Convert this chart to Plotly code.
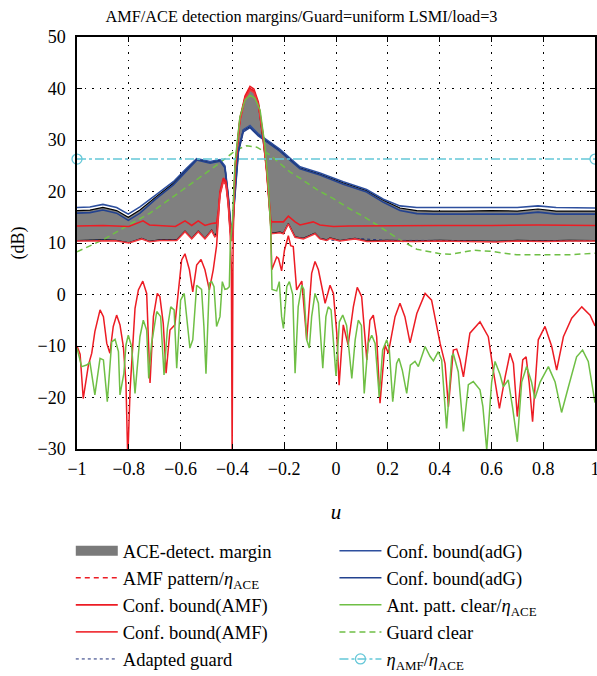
import plotly.graph_objects as go

# ---------------- data (u, dB) ----------------
margin_upper = [(-1.0, 16.3), (-0.95, 16.4), (-0.90, 16.9), (-0.847, 16.3), (-0.802, 15.0), (-0.757, 16.4),
                (-0.694, 19.0), (-0.628, 21.6), (-0.577, 24.3), (-0.538, 26.3), (-0.486, 25.7), (-0.448, 26.1),
                (-0.429, 24.8), (-0.416, 19.0), (-0.403, 11.2), (-0.397, 14.5), (-0.390, 24.2), (-0.371, 33.9),
                (-0.351, 38.3), (-0.332, 40.0), (-0.317, 39.5), (-0.300, 37.1), (-0.283, 30.5), (-0.268, 29.8),
                (-0.252, 29.4), (-0.216, 27.8), (-0.178, 26.3), (-0.139, 24.6),
                (-0.062, 23.4), (0.028, 21.7), (0.118, 20.2), (0.183, 18.3), (0.247, 16.8), (0.312, 16.3),
                (0.376, 16.2), (0.5, 16.2), (0.6, 16.3), (0.70, 16.2), (0.78, 16.6), (0.85, 16.2), (1.0, 16.2)]

margin_lower = [(-1.0, 10.45), (-0.9, 10.6), (-0.85, 10.5), (-0.80, 10.05), (-0.75, 10.9), (-0.72, 10.3),
                (-0.68, 10.6), (-0.615, 10.6), (-0.583, 12.3), (-0.557, 10.9), (-0.532, 12.3), (-0.506, 10.9),
                (-0.480, 12.5), (-0.468, 11.3), (-0.461, 12.0), (-0.454, 15.8), (-0.448, 19.6), (-0.435, 22.2),
                (-0.425, 21.6), (-0.416, 17.7), (-0.409, 12.5), (-0.403, 10.6), (-0.397, 14.0), (-0.390, 20.3),
                (-0.377, 27.8), (-0.358, 31.9), (-0.332, 32.6), (-0.300, 31.0), (-0.283, 30.5), (-0.268, 24.2),
                (-0.258, 17.7), (-0.252, 13.2), (-0.249, 11.9), (-0.216, 12.1), (-0.203, 11.9), (-0.184, 13.8),
                (-0.158, 11.2), (-0.126, 10.9), (-0.081, 11.9), (-0.062, 10.9), (-0.036, 10.6), (-0.023, 11.0),
                (0.015, 10.45), (0.073, 10.9), (0.12, 10.4), (0.2, 10.5), (0.3, 10.4), (0.4, 10.5), (0.5, 10.4),
                (0.62, 10.3), (0.7, 10.5), (0.8, 10.4), (0.9, 10.5), (1.0, 10.45)]

amf_pattern = [(-1.000, -10.0), (-0.988, -11.6), (-0.976, -20.2), (-0.956, -13.7), (-0.943, -11.4), (-0.931, -7.2),
               (-0.911, -3.0), (-0.898, -4.3), (-0.885, -9.5), (-0.873, -11.4), (-0.860, -6.2), (-0.847, -4.0),
               (-0.834, -5.9), (-0.821, -10.1), (-0.811, -17.2), (-0.804, -32.0), (-0.795, -18.5), (-0.776, -2.7),
               (-0.763, 0.9), (-0.746, 2.6), (-0.731, 0.2), (-0.718, -17.2), (-0.705, -4.3), (-0.690, 0.2),
               (-0.680, -0.4), (-0.667, -5.6), (-0.656, -15.3), (-0.641, -6.9), (-0.622, -5.9), (-0.609, 0.2),
               (-0.596, 6.7), (-0.583, 7.9), (-0.566, 4.8), (-0.553, 0.5), (-0.538, 5.7), (-0.521, 6.8),
               (-0.506, 4.8), (-0.489, 0.9), (-0.474, 4.8), (-0.461, 9.5), (-0.454, 15.8), (-0.448, 19.6),
               (-0.435, 22.2), (-0.425, 21.6), (-0.416, 17.7), (-0.409, 12.5), (-0.404, 5.0), (-0.401, -32.0),
               (-0.398, 5.0), (-0.396, 14.5), (-0.390, 24.2), (-0.371, 33.9), (-0.351, 38.3), (-0.332, 40.0),
               (-0.317, 39.5), (-0.300, 37.1), (-0.281, 30.6), (-0.268, 24.2), (-0.258, 17.7), (-0.252, 13.2),
               (-0.248, 4.8), (-0.238, 6.0), (-0.229, 7.3), (-0.222, 7.0), (-0.210, 4.6), (-0.199, 8.6),
               (-0.190, 10.6), (-0.184, 11.4), (-0.175, 9.5), (-0.165, 9.3), (-0.152, 0.9), (-0.132, 2.6),
               (-0.113, -8.8), (-0.094, 4.1), (-0.081, 6.4), (-0.068, 4.8), (-0.042, -1.7), (-0.023, 1.8),
               (-0.010, 0.2), (0.003, -7.5), (0.012, -17.6), (0.028, -5.9), (0.047, -9.8), (0.067, -2.4),
               (0.082, 1.4), (0.099, -0.4), (0.119, -12.7), (0.131, -5.0), (0.144, -4.0), (0.157, -8.2),
               (0.170, -21.1), (0.189, -9.8), (0.202, -11.4), (0.228, -4.3), (0.247, -1.7), (0.266, -4.3),
               (0.286, -9.4), (0.312, -3.7), (0.344, 0.2), (0.369, -1.1), (0.402, -9.5), (0.421, -13.4),
               (0.434, -21.8), (0.453, -10.8), (0.466, -10.6), (0.479, -12.7), (0.492, -16.0), (0.517, -7.5),
               (0.556, -5.3), (0.588, -8.2), (0.607, -14.7), (0.631, -22.1), (0.653, -16.0), (0.672, -11.4),
               (0.685, -13.4), (0.700, -23.7), (0.721, -12.7), (0.734, -12.1), (0.746, -17.2), (0.759, -24.7),
               (0.781, -8.8), (0.807, -6.2), (0.833, -10.1), (0.852, -14.7), (0.878, -8.2), (0.910, -4.6),
               (0.949, -2.4), (0.981, -4.0), (1.000, -6.1)]

conf_amf_upper = [(-1.0, 13.3), (-0.90, 13.4), (-0.80, 13.2), (-0.745, 14.3), (-0.72, 13.5), (-0.62, 13.2),
                  (-0.583, 14.3), (-0.557, 13.4), (-0.532, 14.3), (-0.506, 13.4), (-0.48, 13.8), (-0.461, 13.9),
                  (-0.454, 16.3), (-0.448, 20.0), (-0.435, 22.6), (-0.425, 22.0), (-0.416, 18.1), (-0.409, 13.4),
                  (-0.403, 13.3), (-0.398, 13.3), (-0.396, 14.9), (-0.390, 24.6), (-0.371, 34.2), (-0.351, 38.6),
                  (-0.332, 40.4), (-0.317, 39.9), (-0.300, 37.4), (-0.281, 30.9), (-0.268, 24.5), (-0.258, 18.0),
                  (-0.252, 14.5), (-0.248, 14.1), (-0.203, 14.1), (-0.184, 15.2), (-0.158, 14.1), (-0.139, 13.5),
                  (-0.088, 14.1), (-0.062, 13.5), (-0.01, 13.2), (0.05, 13.3), (0.2, 13.4), (0.4, 13.4),
                  (0.6, 13.4), (0.78, 13.5), (1.0, 13.4)]

conf_amf_lower = [(-1.0, 10.4), (-0.9, 10.5), (-0.85, 10.45), (-0.80, 10.0), (-0.75, 10.8), (-0.72, 10.25),
                  (-0.68, 10.5), (-0.615, 10.5), (-0.583, 12.2), (-0.557, 10.8), (-0.532, 12.2), (-0.506, 10.8),
                  (-0.480, 12.4), (-0.468, 11.2), (-0.461, 11.5), (-0.454, 15.5), (-0.448, 19.3), (-0.435, 21.9),
                  (-0.425, 21.3), (-0.416, 17.4), (-0.409, 12.2), (-0.403, 10.5), (-0.398, 10.5), (-0.396, 14.2),
                  (-0.390, 23.9), (-0.371, 33.6), (-0.351, 38.0), (-0.332, 39.7), (-0.317, 39.2), (-0.300, 36.8),
                  (-0.281, 30.3), (-0.268, 23.9), (-0.258, 17.4), (-0.252, 12.9), (-0.249, 11.8), (-0.216, 12.0),
                  (-0.203, 11.8), (-0.184, 13.7), (-0.158, 11.1), (-0.126, 10.8), (-0.081, 11.8), (-0.062, 10.8),
                  (-0.036, 10.5), (-0.023, 10.9), (0.015, 10.4), (0.073, 10.8), (0.12, 10.3), (0.2, 10.4),
                  (0.3, 10.3), (0.4, 10.4), (0.5, 10.3), (0.62, 10.2), (0.7, 10.4), (0.8, 10.3), (0.9, 10.4),
                  (1.0, 10.4)]

adapted_guard = [(-1.0, 10.45), (-0.9, 10.6), (-0.85, 10.5), (-0.80, 10.05), (-0.75, 10.9), (-0.72, 10.3),
                 (-0.68, 10.6), (-0.615, 10.6), (-0.583, 12.3), (-0.557, 10.9), (-0.532, 12.3), (-0.506, 10.9),
                 (-0.480, 12.5), (-0.468, 11.3), (-0.461, None), (-0.249, 11.9), (-0.216, 12.1), (-0.203, 11.9),
                 (-0.184, 13.8), (-0.158, 11.2), (-0.126, 10.9), (-0.081, 11.9), (-0.062, 10.9), (-0.036, 10.6),
                 (0.015, 10.45), (0.073, 10.9), (0.2, 10.5), (0.4, 10.5), (0.62, 10.3), (0.8, 10.4), (1.0, 10.45)]

conf_adg_1 = [(-1.0, 16.9), (-0.95, 17.0), (-0.90, 17.5), (-0.847, 16.9), (-0.802, 15.6), (-0.757, 17.0),
              (-0.694, 19.4), (-0.628, 21.9), (-0.577, 24.5), (-0.538, 26.4), (-0.486, 25.8), (-0.448, 26.2),
              (-0.429, 25.0), (-0.416, 19.2), (-0.403, 11.4), (-0.390, 20.5), (-0.377, 28.0), (-0.358, 32.0),
              (-0.332, 32.8), (-0.300, 31.2), (-0.268, 30.1), (-0.216, 28.2), (-0.178, 26.5), (-0.139, 24.8),
              (-0.062, 23.6), (0.028, 21.9), (0.118, 20.4), (0.183, 18.5), (0.247, 17.2), (0.312, 16.9),
              (0.376, 16.9), (0.5, 16.9), (0.6, 16.9), (0.70, 16.9), (0.78, 17.2), (0.85, 16.9), (1.0, 16.8)]

conf_adg_2 = [(-1.0, 15.8), (-0.95, 15.9), (-0.90, 16.4), (-0.847, 15.8), (-0.802, 14.4), (-0.757, 15.8),
              (-0.694, 18.6), (-0.628, 21.3), (-0.577, 24.0), (-0.538, 26.1), (-0.486, 25.5), (-0.448, 25.9),
              (-0.429, 24.6), (-0.416, 18.8), (-0.403, 11.0), (-0.390, 20.1), (-0.377, 27.6), (-0.358, 31.6),
              (-0.332, 32.4), (-0.300, 30.8), (-0.268, 29.7), (-0.216, 27.8), (-0.178, 26.1), (-0.139, 24.4),
              (-0.062, 23.2), (0.028, 21.4), (0.118, 19.9), (0.183, 17.9), (0.247, 16.3), (0.312, 15.7),
              (0.376, 15.6), (0.5, 15.6), (0.6, 15.7), (0.70, 15.6), (0.78, 16.0), (0.85, 15.6), (1.0, 15.6)]

ant_pattern = [(-1.0, -10.45), (-0.982, -14.0), (-0.963, -13.7), (-0.950, -13.2), (-0.931, -19.5), (-0.911, -12.4),
               (-0.898, -12.7), (-0.883, -20.8), (-0.866, -9.2), (-0.853, -8.7), (-0.840, -11.1), (-0.834, -19.5),
               (-0.819, -15.3), (-0.811, -9.8), (-0.802, -7.9), (-0.789, -10.1), (-0.776, -19.2), (-0.757, -8.2),
               (-0.744, -5.0), (-0.731, -6.9), (-0.723, -16.3), (-0.712, -9.5), (-0.692, -3.3), (-0.677, -4.3),
               (-0.664, -15.6), (-0.651, -6.6), (-0.638, -2.4), (-0.625, -3.0), (-0.615, -14.3), (-0.600, -1.1),
               (-0.586, 0.2), (-0.573, -5.6), (-0.564, -10.4), (-0.553, -8.8), (-0.538, 1.8), (-0.519, 1.0),
               (-0.510, -6.2), (-0.502, -15.4), (-0.489, 2.2), (-0.480, 2.5), (-0.471, 1.5), (-0.461, -6.2),
               (-0.448, -4.3), (-0.439, 2.5), (-0.429, 1.0), (-0.420, 1.1), (-0.412, 1.5), (-0.408, 10.0),
               (-0.400, 14.0), (-0.390, 25.5), (-0.371, 34.5), (-0.351, 37.8), (-0.332, 38.7), (-0.313, 38.1),
               (-0.293, 35.8), (-0.274, 28.7), (-0.261, 20.9), (-0.252, 12.5), (-0.247, 1.0), (-0.229, 0.7),
               (-0.219, 2.5), (-0.210, -4.3), (-0.203, -6.6), (-0.190, 1.5), (-0.180, 2.5), (-0.167, 0.0),
               (-0.158, -15.3), (-0.146, -2.4), (-0.132, 1.8), (-0.124, 1.0), (-0.113, -8.8), (-0.103, -10.4),
               (-0.094, -4.3), (-0.081, 0.2), (-0.068, -1.7), (-0.051, -14.3), (-0.039, -4.3), (-0.030, -2.4),
               (-0.019, -3.0), (0.000, -15.8), (0.013, -5.3), (0.026, -4.0), (0.041, -6.0), (0.061, -16.3),
               (0.074, -8.8), (0.086, -5.0), (0.098, -6.0), (0.109, -19.2), (0.124, -9.5), (0.138, -7.9),
               (0.151, -9.5), (0.167, -19.9), (0.180, -10.8), (0.196, -8.8), (0.206, -10.8), (0.219, -20.8),
               (0.234, -13.4), (0.243, -12.4), (0.256, -14.7), (0.273, -19.2), (0.287, -13.7), (0.305, -13.0),
               (0.318, -14.0), (0.344, -10.1), (0.363, -12.0), (0.376, -12.9), (0.395, -11.1), (0.408, -12.7),
               (0.427, -26.0), (0.447, -12.0), (0.453, -11.5), (0.472, -15.0), (0.492, -26.6), (0.511, -17.5),
               (0.530, -16.9), (0.556, -18.5), (0.567, -21.7), (0.582, -30.2), (0.601, -17.0), (0.614, -13.0),
               (0.633, -15.5), (0.646, -17.9), (0.665, -16.6), (0.682, -22.0), (0.700, -28.6), (0.717, -17.0),
               (0.736, -14.0), (0.755, -17.0), (0.768, -20.2), (0.788, -17.0), (0.820, -14.0), (0.846, -17.0),
               (0.871, -22.9), (0.897, -18.0), (0.929, -12.1), (0.952, -10.8), (0.974, -13.0), (1.0, -21.0)]

guard_clear = [(-1.0, 8.3), (-0.9, 10.6), (-0.8, 13.5), (-0.718, 15.8), (-0.628, 19.0), (-0.538, 22.2),
               (-0.461, 25.1), (-0.384, 28.1), (-0.345, 28.9), (-0.306, 28.6), (-0.255, 27.1), (-0.178, 23.8),
               (-0.139, 22.6), (-0.075, 20.4), (-0.01, 18.6), (0.054, 16.6), (0.118, 14.8), (0.183, 12.7),
               (0.247, 10.6), (0.312, 8.8), (0.402, 7.9), (0.44, 7.8), (0.53, 8.6), (0.595, 8.4),
               (0.698, 7.7), (0.89, 7.7), (1.0, 8.0)]

eta_ratio = [(-1.0, 26.3), (1.0, 26.3)]

x_ticks = [-1, -0.8, -0.6, -0.4, -0.2, 0, 0.2, 0.4, 0.6, 0.8, 1]
x_labels = ["−1", "−0.8", "−0.6", "−0.4", "−0.2", "0", "0.2", "0.4", "0.6", "0.8", "1"]
y_ticks = [-30, -20, -10, 0, 10, 20, 30, 40, 50]
y_labels = ["−30", "−20", "−10", "0", "10", "20", "30", "40", "50"]


def xy(pairs):
    xs, ys = zip(*pairs)
    return list(xs), list(ys)


FONT = "Liberation Serif"
RED = "#ec1c24"
RED2 = "#f0373d"
GREEN = "#6fbf45"
BLUE1 = "#2d4f9e"
BLUE2 = "#23428f"
CYAN = "#64c7d8"

fig = go.Figure()

lx, ly = xy(margin_lower)
fig.add_trace(go.Scatter(x=lx, y=ly, mode="lines", line=dict(color="black", width=1.2),
                         showlegend=False, hoverinfo="skip"))
ux, uy = xy(margin_upper)
fig.add_trace(go.Scatter(x=ux, y=uy, mode="lines", fill="tonexty", fillcolor="#808080",
                         line=dict(color="black", width=1.2), showlegend=False, hoverinfo="skip"))
# legend entry for the grey margin band
fig.add_trace(go.Scatter(x=[None], y=[None], mode="lines", line=dict(color="#7a7a7a", width=10),
                         name="ACE-detect. margin", legend="legend", legendrank=1))

gx, gy = xy(guard_clear)
fig.add_trace(go.Scatter(x=gx, y=gy, mode="lines", line=dict(color=GREEN, width=1.5, dash="6px,4px"),
                         name="Guard clear", legend="legend2", legendrank=9))

ax_, ay_ = xy(adapted_guard)
fig.add_trace(go.Scatter(x=ax_, y=ay_, mode="lines", line=dict(color="#1f2f7a", width=1, dash="dot"),
                         name="Adapted guard", legend="legend", legendrank=5, connectgaps=False))

b1x, b1y = xy(conf_adg_1)
fig.add_trace(go.Scatter(x=b1x, y=b1y, mode="lines", line=dict(color=BLUE1, width=1.6),
                         name="Conf. bound(adG)", legend="legend2", legendrank=6))
b2x, b2y = xy(conf_adg_2)
fig.add_trace(go.Scatter(x=b2x, y=b2y, mode="lines", line=dict(color=BLUE2, width=1.6),
                         name="Conf. bound(adG)", legend="legend2", legendrank=7))

amx, amy = xy(amf_pattern)
fig.add_trace(go.Scatter(x=amx, y=amy, mode="lines", line=dict(color=RED, width=1.5),
                         showlegend=False, hoverinfo="skip"))
# legend entry for the AMF pattern (drawn dashed in the reference legend)
fig.add_trace(go.Scatter(x=[None], y=[None], mode="lines", line=dict(color=RED, width=1.5, dash="5px,4px"),
                         name="AMF pattern/<i>η</i><sub>ACE</sub>", legend="legend", legendrank=2))

cux, cuy = xy(conf_amf_upper)
fig.add_trace(go.Scatter(x=cux, y=cuy, mode="lines", line=dict(color=RED, width=1.6),
                         name="Conf. bound(AMF)", legend="legend", legendrank=3))
clx, cly = xy(conf_amf_lower)
fig.add_trace(go.Scatter(x=clx, y=cly, mode="lines", line=dict(color=RED2, width=1.6),
                         name="Conf. bound(AMF)", legend="legend", legendrank=4))

apx, apy = xy(ant_pattern)
fig.add_trace(go.Scatter(x=apx, y=apy, mode="lines", line=dict(color=GREEN, width=1.5),
                         name="Ant. patt. clear/<i>η</i><sub>ACE</sub>", legend="legend2", legendrank=8))

ex, ey = xy(eta_ratio)
fig.add_trace(go.Scatter(x=ex, y=ey, mode="lines+markers", cliponaxis=False,
                         line=dict(color=CYAN, width=1.5, dash="dashdot"),
                         marker=dict(symbol="circle-open", size=10, color=CYAN, line=dict(width=1.3)),
                         name="<i>η</i><sub>AMF</sub>/<i>η</i><sub>ACE</sub>", legend="legend2", legendrank=10))

grid_dash = "1.5px,6px"
fig.update_layout(
    width=597, height=676,
    margin=dict(l=77, r=2, t=37, b=227, autoexpand=False),
    paper_bgcolor="white", plot_bgcolor="white",
    font=dict(family=FONT, size=18, color="black"),
    title=dict(text="AMF/ACE detection margins/Guard=uniform LSMI/load=3", x=0.505, xref="container",
               xanchor="center", y=1 - 16 / 676, yanchor="middle", font=dict(family=FONT, size=16.3)),
    xaxis=dict(range=[-1, 1], tickvals=x_ticks, ticktext=x_labels,
               showgrid=True, gridcolor="black", gridwidth=1, griddash=grid_dash,
               showline=True, linecolor="black", linewidth=1.5, mirror="ticks",
               ticks="inside", ticklen=5, tickcolor="black", zeroline=False,
               tickfont=dict(size=18), ticklabelstandoff=3, ticklabeloverflow="allow",
               title=dict(text="<i>u</i>", font=dict(size=21), standoff=26)),
    yaxis=dict(range=[-30, 50], tickvals=y_ticks, ticktext=y_labels,
               showgrid=True, gridcolor="black", gridwidth=1, griddash=grid_dash,
               showline=True, linecolor="black", linewidth=1.5, mirror="ticks",
               ticks="inside", ticklen=5, tickcolor="black", zeroline=False,
               tickfont=dict(size=18), ticklabelstandoff=6, ticklabeloverflow="allow",
               title=dict(text="(dB)", font=dict(size=18), standoff=8)),
    legend=dict(x=-0.012, y=-0.202, xanchor="left", yanchor="top", bgcolor="rgba(0,0,0,0)",
                font=dict(family=FONT, size=18.5), tracegroupgap=0, itemwidth=42, traceorder="normal"),
    legend2=dict(x=0.497, y=-0.202, xanchor="left", yanchor="top", bgcolor="rgba(0,0,0,0)",
                 font=dict(family=FONT, size=18.5), tracegroupgap=0, itemwidth=42, traceorder="normal"),
)

fig.write_html("out.html")
